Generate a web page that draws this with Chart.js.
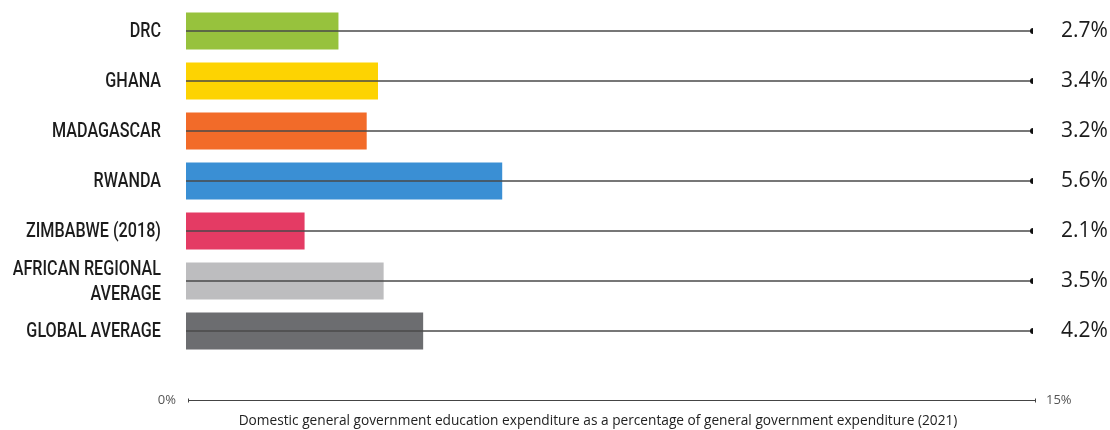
<!DOCTYPE html>
<html>
<head>
<meta charset="utf-8">
<script src="https://cdn.jsdelivr.net/npm/chart.js@4/dist/chart.umd.min.js"></script>
<style>
  html, body { margin: 0; padding: 0; background: #ffffff; }
  #wrap { width: 1110px; height: 430px; position: relative; }
</style>
</head>
<body>
<div id="wrap"><canvas id="c"></canvas></div>
<script>
const categories = ['DRC', 'GHANA', 'MADAGASCAR', 'RWANDA', 'ZIMBABWE (2018)', ['AFRICAN REGIONAL', 'AVERAGE'], 'GLOBAL AVERAGE'];
const values = [2.7, 3.4, 3.2, 5.6, 2.1, 3.5, 4.2];
const barColors = ['#97c23d', '#fdd302', '#f26b29', '#3a8fd4', '#e43b64', '#bdbdbf', '#6c6d70'];
const axisMax = 15;
const axisTickValues = [0, 15];
const axisTickLabels = ['0%', '15%'];
const axisTitle = 'Domestic general government education expenditure as a percentage of general government expenditure (2021)';
const refLineValues = categories.map(() => axisMax);

const LABEL_FONT = "Roboto, 'Liberation Sans', sans-serif";
const TEXT_FONT = "'Open Sans', 'Noto Sans', sans-serif";

// category labels in a condensed look (horizontally compressed text)
const categoryLabelPlugin = {
  id: 'categoryLabels',
  afterDraw(chart) {
    const ctx = chart.ctx;
    const ys = chart.scales.y;
    const right = chart.chartArea.left - 25;
    const sx = 0.77;
    const lineH = 25;
    ctx.save();
    ctx.fillStyle = '#1c1c1c';
    ctx.font = "500 21px " + LABEL_FONT;
    ctx.textAlign = 'right';
    ctx.textBaseline = 'middle';
    categories.forEach((lab, i) => {
      const lines = Array.isArray(lab) ? lab : [lab];
      const cy = ys.getPixelForValue(i);
      const y0 = cy - (lines.length - 1) * lineH / 2;
      lines.forEach((t, k) => {
        ctx.save();
        ctx.translate(right, y0 + k * lineH + 1);
        ctx.scale(sx, 1);
        ctx.fillText(t, 0, 0);
        ctx.restore();
      });
    });
    ctx.restore();
  }
};

const bottomAxisPlugin = {
  id: 'bottomAxis',
  afterDraw(chart) {
    const ctx = chart.ctx;
    const xs = chart.scales.x;
    const y = 400.5;
    const x0 = xs.getPixelForValue(axisTickValues[0]);
    const x1 = xs.getPixelForValue(axisTickValues[1]);
    ctx.save();
    ctx.strokeStyle = '#444';
    ctx.lineWidth = 1;
    ctx.beginPath();
    ctx.moveTo(x0 + 2, y);
    ctx.lineTo(x1 + 3, y);
    ctx.moveTo(x0 + 2.5, y - 2);
    ctx.lineTo(x0 + 2.5, y + 2);
    ctx.moveTo(x1 + 2.5, y - 2);
    ctx.lineTo(x1 + 2.5, y + 2);
    ctx.stroke();
    ctx.fillStyle = '#555';
    ctx.font = "13px " + TEXT_FONT;
    ctx.textBaseline = 'middle';
    ctx.textAlign = 'right';
    ctx.fillText(axisTickLabels[0], x0 - 10, y);
    ctx.textAlign = 'left';
    ctx.fillText(axisTickLabels[1], x1 + 13, y);
    ctx.fillStyle = '#222';
    ctx.font = "13.7px " + TEXT_FONT;
    ctx.textAlign = 'center';
    ctx.fillText(axisTitle, 598, 421);
    ctx.restore();
  }
};

new Chart(document.getElementById('c'), {
  type: 'bar',
  data: {
    labels: categories,
    datasets: [
      {
        type: 'line',
        indexAxis: 'y',
        data: refLineValues,
        showLine: false,
        pointRadius: 3,
        pointHoverRadius: 3,
        pointBackgroundColor: '#111',
        pointBorderWidth: 0,
        xAxisID: 'x',
        yAxisID: 'y',
        order: 0
      },
      {
        data: refLineValues,
        backgroundColor: '#4a4a4a',
        barThickness: 1,
        grouped: false,
        xAxisID: 'x',
        yAxisID: 'y',
        order: 1
      },
      {
        data: values,
        backgroundColor: barColors,
        categoryPercentage: 1,
        barPercentage: 0.74,
        grouped: false,
        xAxisID: 'x',
        yAxisID: 'y',
        order: 2
      }
    ]
  },
  options: {
    indexAxis: 'y',
    responsive: true,
    maintainAspectRatio: false,
    animation: false,
    layout: { padding: { top: 6, bottom: 74, left: 0, right: 0 } },
    plugins: { legend: { display: false }, tooltip: { enabled: false } },
    scales: {
      x: {
        display: false,
        min: 0,
        max: axisMax
      },
      y: {
        type: 'category',
        position: 'left',
        offset: true,
        grid: { display: false, drawTicks: false },
        border: { display: false },
        ticks: { display: false, padding: 0 },
        afterFit(s) { s.width = 186; s.paddingTop = 0; s.paddingBottom = 0; }
      },
      yRight: {
        type: 'category',
        position: 'right',
        offset: true,
        grid: { display: false, drawTicks: false },
        border: { display: false },
        ticks: {
          autoSkip: false,
          padding: 28,
          color: '#1c1c1c',
          font: { family: TEXT_FONT, size: 21 },
          callback: (v, i) => values[i].toFixed(1) + '%'
        },
        afterFit(s) { s.width = 77; s.paddingTop = 0; s.paddingBottom = 0; }
      }
    }
  },
  plugins: [categoryLabelPlugin, bottomAxisPlugin]
});
</script>
</body>
</html>
